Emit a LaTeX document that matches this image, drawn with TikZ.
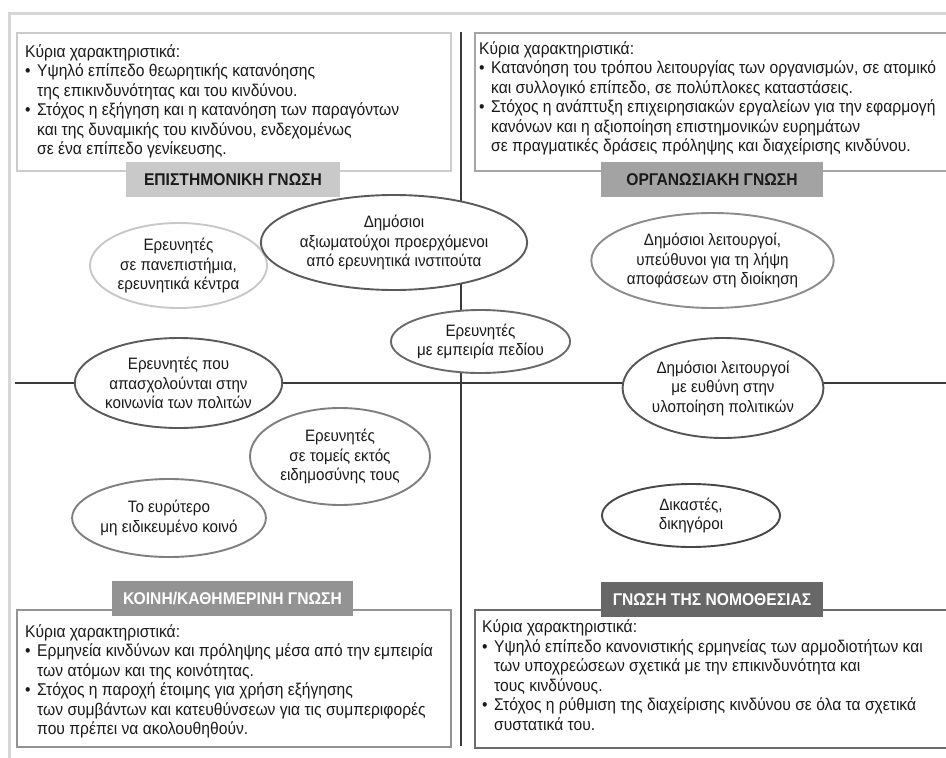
\documentclass[tikz,border=0pt]{standalone}
\usepackage{fontspec}
\setmainfont{Liberation Sans}[FakeStretch=0.92]
\usetikzlibrary{shapes.geometric}
\definecolor{framegray}{HTML}{D6D6D6}
\definecolor{axisgray}{HTML}{3A3A3A}
\definecolor{inkgray}{HTML}{1A1A1A}
\newcommand{\bul}{\makebox[12pt][l]{•}}
\newcommand{\cont}{\hspace*{12pt}}
\begin{document}
\begin{tikzpicture}[x=1pt,y=-1pt,
  every node/.style={font=\fontsize{17}{19.5}\selectfont, text=inkgray},
  group/.style={draw, shape=ellipse, fill=white, line width=1.9pt, inner sep=0pt, align=center, font=\fontsize{16.5}{19.5}\selectfont},
  infobox/.style={draw, line width=1.9pt, inner sep=0pt, anchor=north west},
  infotext/.style={anchor=base west, align=left, inner sep=0pt},
  heading/.style={minimum height=35pt, inner sep=0pt, font=\fontsize{17}{18}\selectfont\bfseries}]
\useasboundingbox (0,0) rectangle (946,758);
\draw[framegray, line width=3pt] (9,758) -- (9,13) -- (946,13);
\draw[axisgray, line width=1.2pt] (15,383) -- (946,383);
\draw[axisgray, line width=1.2pt] (461,32) -- (461,746);

\node[infobox, draw={rgb,255:red,204;green,204;blue,204}, minimum width=434pt, minimum height=138pt] (scibox) at (16,32) {};
\node[infobox, draw={rgb,255:red,165;green,165;blue,165}, minimum width=480pt, minimum height=138pt] (orgbox) at (474,32) {};
\node[infobox, draw={rgb,255:red,147;green,147;blue,147}, minimum width=434pt, minimum height=137pt] (combox) at (16,609) {};
\node[infobox, draw={rgb,255:red,107;green,107;blue,107}, minimum width=480pt, minimum height=138pt] (lawbox) at (474,609) {};

\node[infotext] (scitext) at (25,154.5) {Κύρια χαρακτηριστικά:\\
\bul Υψηλό επίπεδο θεωρητικής κατανόησης\\
\cont της επικινδυνότητας και του κινδύνου.\\
\bul Στόχος η εξήγηση και η κατανόηση των παραγόντων\\
\cont και της δυναμικής του κινδύνου, ενδεχομένως\\
\cont σε ένα επίπεδο γενίκευσης.};
\node[infotext] (orgtext) at (479,151.5) {Κύρια χαρακτηριστικά:\\
\bul Κατανόηση του τρόπου λειτουργίας των οργανισμών, σε ατομικό\\
\cont και συλλογικό επίπεδο, σε πολύπλοκες καταστάσεις.\\
\bul Στόχος η ανάπτυξη επιχειρησιακών εργαλείων για την εφαρμογή\\
\cont κανόνων και η αξιοποίηση επιστημονικών ευρημάτων\\
\cont σε πραγματικές δράσεις πρόληψης και διαχείρισης κινδύνου.};
\node[infotext] (comtext) at (25,734.5) {Κύρια χαρακτηριστικά:\\
\bul Ερμηνεία κινδύνων και πρόληψης μέσα από την εμπειρία\\
\cont των ατόμων και της κοινότητας.\\
\bul Στόχος η παροχή έτοιμης για χρήση εξήγησης\\
\cont των συμβάντων και κατευθύνσεων για τις συμπεριφορές\\
\cont που πρέπει να ακολουθηθούν.};
\node[infotext] (lawtext) at (482,730) {Κύρια χαρακτηριστικά:\\
\bul Υψηλό επίπεδο κανονιστικής ερμηνείας των αρμοδιοτήτων και\\
\cont των υποχρεώσεων σχετικά με την επικινδυνότητα και\\
\cont τους κινδύνους.\\
\bul Στόχος η ρύθμιση της διαχείρισης κινδύνου σε όλα τα σχετικά\\
\cont συστατικά του.};

\node[heading, fill={rgb,255:red,201;green,201;blue,201}, minimum width=214pt] (scihead) at (233,179.5) {ΕΠΙΣΤΗΜΟΝΙΚΗ ΓΝΩΣΗ};
\node[heading, fill={rgb,255:red,163;green,163;blue,163}, minimum width=222pt] (orghead) at (712,179.5) {ΟΡΓΑΝΩΣΙΑΚΗ ΓΝΩΣΗ};
\node[heading, fill={rgb,255:red,147;green,147;blue,147}, text=white, minimum width=241pt] (comhead) at (232.5,598.5) {ΚΟΙΝΗ/ΚΑΘΗΜΕΡΙΝΗ ΓΝΩΣΗ};
\node[heading, fill={rgb,255:red,103;green,103;blue,103}, text=white, minimum width=222pt] (lawhead) at (712,599.5) {ΓΝΩΣΗ ΤΗΣ ΝΟΜΟΘΕΣΙΑΣ};

\node[group, draw={rgb,255:red,200;green,200;blue,200}, minimum width=177pt, minimum height=85pt] (univ) at (178.5,265.5) {Ερευνητές\\ σε πανεπιστήμια,\\ ερευνητικά κέντρα};
\node[group, draw={rgb,255:red,90;green,90;blue,90}, minimum width=198pt, minimum height=95pt] (officials) at (394,242.5) {Δημόσιοι\\ αξιωματούχοι προερχόμενοι\\ από ερευνητικά ινστιτούτα};
\node[group, draw={rgb,255:red,106;green,106;blue,106}, minimum width=175pt, minimum height=63pt] (field) at (480.5,341.5) {Ερευνητές\\ με εμπειρία πεδίου};
\node[group, draw={rgb,255:red,90;green,90;blue,90}, minimum width=173pt, minimum height=90pt] (civil) at (178.5,383) {Ερευνητές που\\ απασχολούνται στην\\ κοινωνία των πολιτών};
\node[group, draw={rgb,255:red,127;green,127;blue,127}, minimum width=180pt, minimum height=97pt] (outside) at (340,456.5) {Ερευνητές\\ σε τομείς εκτός\\ ειδημοσύνης τους};
\node[group, draw={rgb,255:red,127;green,127;blue,127}, minimum width=178pt, minimum height=78pt] (public) at (169,518) {Το ευρύτερο\\ μη ειδικευμένο κοινό};
\node[group, draw={rgb,255:red,140;green,140;blue,140}, minimum width=199pt, minimum height=95pt] (admin) at (712.5,260.5) {Δημόσιοι λειτουργοί,\\ υπεύθυνοι για τη λήψη\\ αποφάσεων στη διοίκηση};
\node[group, draw={rgb,255:red,85;green,85;blue,85}, minimum width=180pt, minimum height=100pt] (policy) at (723,388) {Δημόσιοι λειτουργοί\\ με ευθύνη στην\\ υλοποίηση πολιτικών};
\node[group, draw={rgb,255:red,71;green,71;blue,71}, minimum width=178pt, minimum height=63pt] (judges) at (691,515.5) {Δικαστές,\\ δικηγόροι};
\end{tikzpicture}
\end{document}
